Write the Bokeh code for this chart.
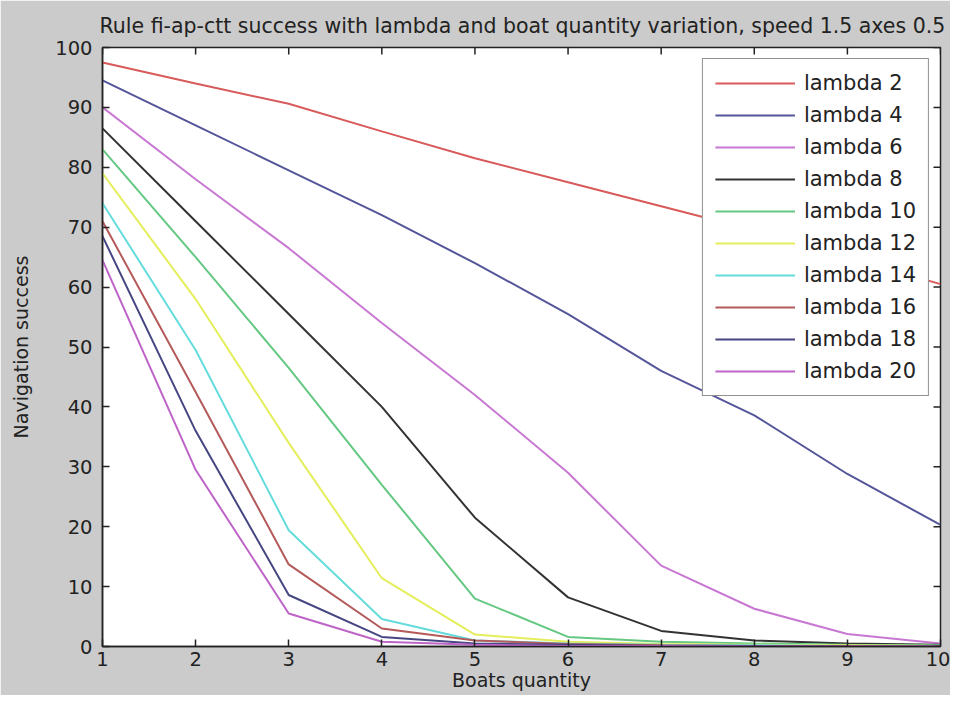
import math
from bokeh.plotting import figure
from bokeh.models import Range1d, FixedTicker
from bokeh.embed import file_html
from bokeh.resources import INLINE

boats = [1, 2, 3, 4, 5, 6, 7, 8, 9, 10]
lambda_2 = [97.5, 94.0, 90.6, 86.0, 81.5, 77.5, 73.5, 69.5, 65.0, 60.5]
lambda_4 = [94.5, 87.0, 79.5, 72.0, 64.0, 55.5, 46.0, 38.6, 28.8, 20.3]
lambda_6 = [90.0, 78.0, 66.5, 54.0, 42.0, 29.0, 13.5, 6.3, 2.1, 0.5]
lambda_8 = [86.5, 71.0, 55.5, 40.0, 21.5, 8.2, 2.6, 1.0, 0.5, 0.3]
lambda_10 = [83.0, 65.0, 46.5, 27.0, 8.0, 1.6, 0.8, 0.5, 0.3, 0.2]
lambda_12 = [79.0, 58.0, 34.0, 11.4, 2.0, 0.8, 0.4, 0.3, 0.2, 0.1]
lambda_14 = [74.0, 49.5, 19.4, 4.6, 1.0, 0.5, 0.3, 0.2, 0.1, 0.1]
lambda_16 = [71.0, 42.5, 13.7, 3.0, 1.0, 0.4, 0.2, 0.1, 0.1, 0.1]
lambda_18 = [68.5, 36.0, 8.6, 1.6, 0.5, 0.3, 0.1, 0.1, 0.0, 0.0]
lambda_20 = [64.5, 29.5, 5.5, 0.8, 0.3, 0.1, 0.1, 0.0, 0.0, 0.0]

labels = ["lambda 2", "lambda 4", "lambda 6", "lambda 8", "lambda 10",
          "lambda 12", "lambda 14", "lambda 16", "lambda 18", "lambda 20"]
series = [lambda_2, lambda_4, lambda_6, lambda_8, lambda_10,
          lambda_12, lambda_14, lambda_16, lambda_18, lambda_20]
colors = ["#d85a5a", "#55559a", "#c878d2", "#333333", "#64c882",
          "#e4ee5a", "#64dcdc", "#b45a5a", "#464682", "#be64c8"]

x_ticks = list(range(1, 11))
y_ticks = list(range(0, 101, 10))

FONT = "DejaVu Sans"
TXT = "#222222"

p = figure(width=950, height=695, output_backend="svg", toolbar_location=None,
           x_range=Range1d(x_ticks[0], x_ticks[-1]),
           y_range=Range1d(y_ticks[0], y_ticks[-1]),
           min_border_left=102, min_border_right=10, min_border_top=47,
           min_border_bottom=49,
           title="Rule fi-ap-ctt success with lambda and boat quantity variation, speed 1.5 axes 0.5")

p.background_fill_color = "white"
p.border_fill_color = "#cbcbcb"
p.outline_line_color = "#222222"
p.outline_line_width = 1.5
p.grid.visible = False

p.title.text_font = FONT
p.title.text_font_size = "20.5px"
p.title.text_font_style = "normal"
p.title.text_color = TXT
p.title.offset = -3
p.title.standoff = 20

for vals, lab, col in zip(series, labels, colors):
    p.line(boats, vals, line_color=col, line_width=2, legend_label=lab)

# mirrored inward ticks on top and right edges of the box
p.scatter(x=x_ticks, y=[y_ticks[-1]] * len(x_ticks), marker="dash", size=14,
          angle=math.pi / 2, line_color="#222222", line_width=1.5)
p.scatter(x=[x_ticks[-1]] * len(y_ticks), y=y_ticks, marker="dash", size=14,
          line_color="#222222", line_width=1.5)

p.xaxis.ticker = FixedTicker(ticks=x_ticks)
p.yaxis.ticker = FixedTicker(ticks=y_ticks)
for ax in (p.xaxis[0], p.yaxis[0]):
    ax.axis_line_color = "#222222"
    ax.axis_line_width = 1.5
    ax.major_tick_in = 7
    ax.major_tick_out = 0
    ax.major_tick_line_color = "#222222"
    ax.major_tick_line_width = 1.5
    ax.minor_tick_line_color = None
    ax.major_label_text_font = FONT
    ax.major_label_text_color = TXT
    ax.major_label_text_font_size = "19.5px"
    ax.axis_label_text_font = FONT
    ax.axis_label_text_font_size = "19px"
    ax.axis_label_text_font_style = "normal"
    ax.axis_label_text_color = TXT

p.xaxis.major_label_standoff = 5
p.yaxis.major_label_standoff = 10
p.xaxis.axis_label = "Boats quantity"
p.yaxis.axis_label = "Navigation success"
p.xaxis.axis_label_standoff = 0
p.yaxis.axis_label_standoff = 20

lg = p.legend[0]
lg.location = "top_right"
lg.margin = 11
lg.padding = 12
lg.spacing = 8
lg.glyph_width = 80
lg.glyph_height = 20
lg.label_height = 20
lg.label_standoff = 9
lg.label_text_font = FONT
lg.label_text_font_size = "21px"
lg.label_text_color = TXT
lg.border_line_color = "#222222"
lg.border_line_width = 1.5
lg.background_fill_color = "white"
lg.background_fill_alpha = 1.0

open("out.html", "w").write(file_html(p, INLINE))
